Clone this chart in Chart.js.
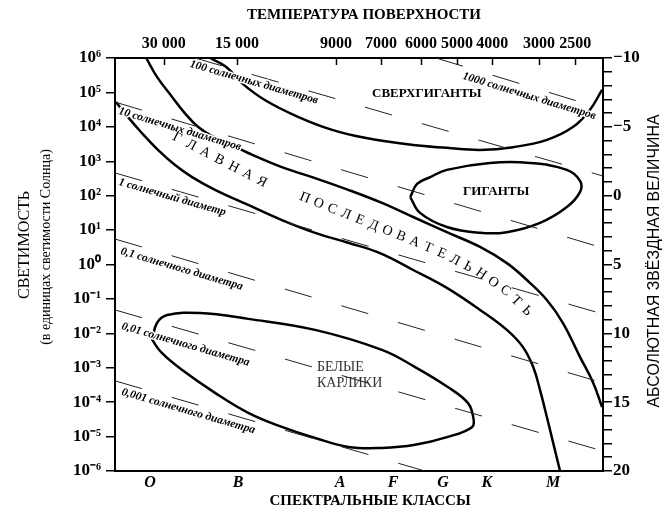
<!DOCTYPE html>
<html>
<head>
<meta charset="utf-8">
<script src="https://cdn.jsdelivr.net/npm/chart.js@4/dist/chart.umd.min.js"></script>
<style>
  html, body { margin: 0; background: #fff; }
</style>
</head>
<body>
<canvas id="hrChart" width="668" height="514"></canvas>
<script>
// x: position along the spectral sequence (0 = left edge, 100 = right edge)
// y: log10 of luminosity in solar units
const classNames = ["O", "B", "A", "F", "G", "K", "M"];
const classPos = [7.2, 25.2, 46.1, 57.0, 67.2, 76.2, 89.8];

const tempLabels = ["30 000", "15 000", "9000", "7000", "6000", "5000", "4000", "3000", "2500"];
const tempPos = [10.0, 25.0, 45.3, 54.5, 62.7, 70.1, 77.3, 86.9, 94.3];

const lumExp = [6, 5, 4, 3, 2, 1, 0, -1, -2, -3, -4, -5, -6];
const magTicks = [-10, -9, -8, -7, -6, -5, -4, -3, -2, -1, 0, 1, 2, 3, 4, 5, 6, 7, 8, 9, 10,
  11, 12, 13, 14, 15, 16, 17, 18, 19, 20];
const magLabels = [-10, -5, 0, 5, 10, 15, 20];

const msUpper = [[6.4, 6.00], [8.6, 5.45], [11.7, 4.87], [14.3, 4.40], [17.0, 4.00], [20.5, 3.68],
  [24.0, 3.47], [27.3, 3.24], [34.2, 2.83], [41.0, 2.51], [47.8, 2.17], [54.7, 1.79], [61.1, 1.38],
  [68.0, 0.94], [74.8, 0.51], [80.3, 0.04], [84.4, -0.45], [88.5, -1.03], [91.8, -1.70],
  [95.3, -2.69], [98.0, -3.44], [99.8, -4.14]];

const msLower = [[0.2, 4.72], [2.5, 4.31], [5.5, 3.82], [8.8, 3.33], [12.3, 2.89], [15.8, 2.54],
  [20.5, 2.17], [27.3, 1.73], [34.2, 1.29], [41.0, 0.92], [47.8, 0.63], [54.3, 0.33], [61.1, -0.16],
  [68.0, -0.68], [74.8, -1.32], [80.3, -1.90], [83.6, -2.40], [85.7, -2.98], [87.1, -3.65],
  [88.5, -4.43], [89.8, -5.19], [91.2, -6.00]];

const supergiants = [[19.5, 6.00], [22.8, 5.74], [26.0, 5.27], [30.7, 4.78], [37.5, 4.29],
  [44.5, 3.91], [51.2, 3.68], [61.1, 3.47], [68.0, 3.39], [74.8, 3.33], [81.6, 3.41], [88.5, 3.62],
  [93.9, 4.00], [97.3, 4.49], [99.8, 5.07]];

const giants = [[60.5, 1.96], [61.9, 2.34], [64.6, 2.54], [68.0, 2.75], [76.8, 2.95], [85.0, 2.95],
  [92.6, 2.75], [95.3, 2.43], [95.3, 2.11], [92.6, 1.67], [87.1, 1.21], [80.3, 0.94], [74.8, 0.92],
  [68.0, 1.09], [62.5, 1.50], [60.5, 1.96]];

const whiteDwarfs = [[7.6, -2.19], [8.6, -1.70], [10.7, -1.47], [17.4, -1.41], [27.3, -1.58],
  [41.0, -1.90], [54.7, -2.48], [61.5, -2.98], [68.2, -3.56], [72.3, -4.02], [73.4, -4.43],
  [73.2, -4.72], [68.2, -5.01], [61.5, -5.24], [54.7, -5.33], [47.8, -5.30], [41.0, -5.04],
  [34.2, -4.72], [27.3, -4.31], [20.5, -3.73], [13.7, -3.06], [9.6, -2.57], [7.6, -2.19]];

const radiusLabels = ["1000 солнечных диаметров", "100 солнечных диаметров", "10 солнечных диаметров",
  "1 солнечный диаметр", "0,1 солнечного диаметра", "0,01 солнечного диаметра",
  "0,001 солнечного диаметра"];
const radiusLines = [
  [[65.8, 6.00], [100, 4.52]],
  [[16.4, 6.00], [100, 2.57]],
  [[0, 4.72], [100, 0.48]],
  [[0, 2.66], [100, -1.44]],
  [[0, 0.74], [100, -3.44]],
  [[0, -1.32], [100, -5.42]],
  [[0, -3.38], [63.5, -6.00]]
];
const radiusLabelAt = [[71.3, 5.48], [15.4, 5.83], [0.8, 4.46], [0.8, 2.40], [1.2, 0.39],
  [1.4, -1.79], [1.4, -3.70]];

const msWords = ["ГЛАВНАЯ", "ПОСЛЕДОВАТЕЛЬНОСТЬ"];
const msPaths = [
  [[12.7, 3.68], [30.1, 2.40]],
  [[38.9, 1.93], [56.8, 0.92], [67.2, 0.31], [74.8, -0.25], [80.1, -0.77], [84.4, -1.35]]
];

const regionNames = ["СВЕРХГИГАНТЫ", "ГИГАНТЫ"];
const regionAt = [[63.9, 4.95], [78.1, 2.11]];
const dwarfLines = ["БЕЛЫЕ", "КАРЛИКИ"];
const dwarfAt = [[41.4, -2.98], [41.4, -3.44]];

const serif = '"Liberation Serif", "Times New Roman", serif';
Chart.defaults.font.family = serif;
Chart.defaults.color = "#000";

const sup = { "-": "⁻", "0": "⁰", "1": "¹", "2": "²", "3": "³", "4": "⁴", "5": "⁵", "6": "⁶",
  "7": "⁷", "8": "⁸", "9": "⁹" };
const pow10 = (v) => "10" + String(v).split("").map((c) => sup[c]).join("");

const toXY = (arr) => arr.map((p) => ({ x: p[0], y: p[1] }));

const curve = (pts) => ({
  data: toXY(pts),
  showLine: true,
  borderColor: "#000",
  borderWidth: 2.5,
  pointRadius: 0,
  tension: 0.4,
  fill: false,
});

const dashed = (pts) => ({
  data: toXY(pts),
  showLine: true,
  borderColor: "#222",
  borderWidth: 1,
  borderDash: [28, 31],
  pointRadius: 0,
  tension: 0,
});

function drawAlong(ctx, pts, text) {
  const segs = [];
  let total = 0;
  for (let i = 1; i < pts.length; i++) {
    const dx = pts[i].x - pts[i - 1].x;
    const dy = pts[i].y - pts[i - 1].y;
    const len = Math.hypot(dx, dy);
    segs.push({ a: pts[i - 1], dx, dy, len, start: total });
    total += len;
  }
  const chars = [...text];
  const step = total / (chars.length - 1);
  chars.forEach((ch, k) => {
    const s = k * step;
    const seg = segs.find((g) => s <= g.start + g.len + 0.01) || segs[segs.length - 1];
    const t = (s - seg.start) / seg.len;
    ctx.save();
    ctx.translate(seg.a.x + seg.dx * t, seg.a.y + seg.dy * t);
    ctx.rotate(Math.atan2(seg.dy, seg.dx));
    ctx.fillText(ch, 0, 0);
    ctx.restore();
  });
}

const textLayer = {
  id: "textLayer",
  afterDatasetsDraw(chart) {
    const { ctx, scales: { x, y } } = chart;
    const px = (p) => ({ x: x.getPixelForValue(p[0]), y: y.getPixelForValue(p[1]) });
    ctx.save();
    ctx.textBaseline = "middle";
    ctx.lineJoin = "round";

    // labels along the lines of equal radius
    ctx.font = "italic bold 11.5px " + serif;
    ctx.textAlign = "left";
    radiusLines.forEach((ln, i) => {
      const a = px(ln[0]);
      const b = px(ln[1]);
      const p = px(radiusLabelAt[i]);
      ctx.save();
      ctx.translate(p.x, p.y);
      ctx.rotate(Math.atan2(b.y - a.y, b.x - a.x));
      ctx.strokeStyle = "#fff";
      ctx.lineWidth = 3;
      ctx.strokeText(radiusLabels[i], 0, 0);
      ctx.fillStyle = "#000";
      ctx.fillText(radiusLabels[i], 0, 0);
      ctx.restore();
    });

    // main sequence lettering
    ctx.font = "14px " + serif;
    ctx.textAlign = "center";
    ctx.fillStyle = "#000";
    msWords.forEach((w, i) => drawAlong(ctx, msPaths[i].map(px), w));

    // region names
    ctx.font = "bold 13px " + serif;
    regionNames.forEach((name, i) => {
      const p = px(regionAt[i]);
      ctx.fillText(name, p.x, p.y);
    });
    ctx.font = "14px " + serif;
    ctx.textAlign = "left";
    ctx.fillStyle = "#333";
    dwarfLines.forEach((s, i) => {
      const p = px(dwarfAt[i]);
      ctx.fillText(s, p.x, p.y);
    });

    // outer titles
    ctx.fillStyle = "#000";
    ctx.textAlign = "center";
    ctx.font = "bold 15px " + serif;
    ctx.fillText("ТЕМПЕРАТУРА ПОВЕРХНОСТИ", 364, 15, 238);
    ctx.fillText("СПЕКТРАЛЬНЫЕ КЛАССЫ", 370, 501, 205);

    ctx.save();
    ctx.translate(25, 245);
    ctx.rotate(-Math.PI / 2);
    ctx.font = "16px " + serif;
    ctx.fillText("СВЕТИМОСТЬ", 0, 0, 118);
    ctx.restore();

    ctx.save();
    ctx.translate(46, 247);
    ctx.rotate(-Math.PI / 2);
    ctx.font = "14px " + serif;
    ctx.fillText("(в единицах светимости Солнца)", 0, 0, 221);
    ctx.restore();

    ctx.save();
    ctx.translate(655, 261);
    ctx.rotate(-Math.PI / 2);
    ctx.font = '16px "Liberation Sans", Arial, sans-serif';
    ctx.fillText("АБСОЛЮТНАЯ ЗВЁЗДНАЯ ВЕЛИЧИНА", 0, 0, 293);
    ctx.restore();

    // inward tick marks of the temperature axis
    ctx.strokeStyle = "#000";
    ctx.lineWidth = 1.5;
    const top = chart.chartArea.top;
    tempPos.forEach((v) => {
      const xp = Math.round(chart.scales.x2.getPixelForValue(v)) + 0.5;
      ctx.beginPath();
      ctx.moveTo(xp, top);
      ctx.lineTo(xp, top + 7);
      ctx.stroke();
    });
    ctx.restore();
  },
};

const axisBorder = { display: true, color: "#000", width: 2 };

new Chart(document.getElementById("hrChart"), {
  type: "scatter",
  data: {
    datasets: [
      ...radiusLines.map(dashed),
      curve(msUpper),
      curve(msLower),
      curve(supergiants),
      curve(giants),
      curve(whiteDwarfs),
    ],
  },
  options: {
    responsive: false,
    animation: false,
    layout: { padding: 0 },
    plugins: { legend: { display: false }, tooltip: { enabled: false } },
    scales: {
      x: {
        type: "linear",
        position: "bottom",
        min: 0,
        max: 100,
        afterBuildTicks: (s) => { s.ticks = classPos.map((v) => ({ value: v })); },
        afterFit: (s) => { s.height = 43; },
        ticks: {
          autoSkip: false,
          maxRotation: 0,
          padding: 2,
          font: { size: 16, weight: "bold", style: "italic" },
          callback: (v) => classNames[classPos.indexOf(v)],
        },
        grid: { display: false, drawTicks: false },
        border: axisBorder,
      },
      x2: {
        type: "linear",
        position: "top",
        min: 0,
        max: 100,
        afterBuildTicks: (s) => { s.ticks = tempPos.map((v) => ({ value: v })); },
        afterFit: (s) => { s.height = 58; },
        ticks: {
          autoSkip: false,
          maxRotation: 0,
          padding: 5,
          font: { size: 16, weight: "bold" },
          callback: (v) => tempLabels[tempPos.indexOf(v)],
        },
        grid: { display: false, drawTicks: false },
        border: axisBorder,
      },
      y: {
        type: "linear",
        position: "left",
        min: -6,
        max: 6,
        afterBuildTicks: (s) => { s.ticks = lumExp.map((v) => ({ value: v })); },
        afterFit: (s) => { s.width = 115; },
        ticks: {
          autoSkip: false,
          padding: 5,
          font: { size: 17, weight: "bold" },
          callback: (v) => pow10(v),
        },
        grid: { drawOnChartArea: false, tickLength: 9, color: "#000", lineWidth: 1.5 },
        border: axisBorder,
      },
      y2: {
        type: "linear",
        position: "right",
        min: -10,
        max: 20,
        reverse: true,
        afterBuildTicks: (s) => { s.ticks = magTicks.map((v) => ({ value: v })); },
        afterFit: (s) => { s.width = 65; },
        ticks: {
          autoSkip: false,
          padding: 1,
          font: { size: 17, weight: "bold" },
          callback: (v) => (magLabels.includes(v) ? (v < 0 ? "−" + Math.abs(v) : String(v)) : ""),
        },
        grid: { drawOnChartArea: false, tickLength: 9, color: "#000", lineWidth: 1.5 },
        border: axisBorder,
      },
    },
  },
  plugins: [textLayer],
});
</script>
</body>
</html>
